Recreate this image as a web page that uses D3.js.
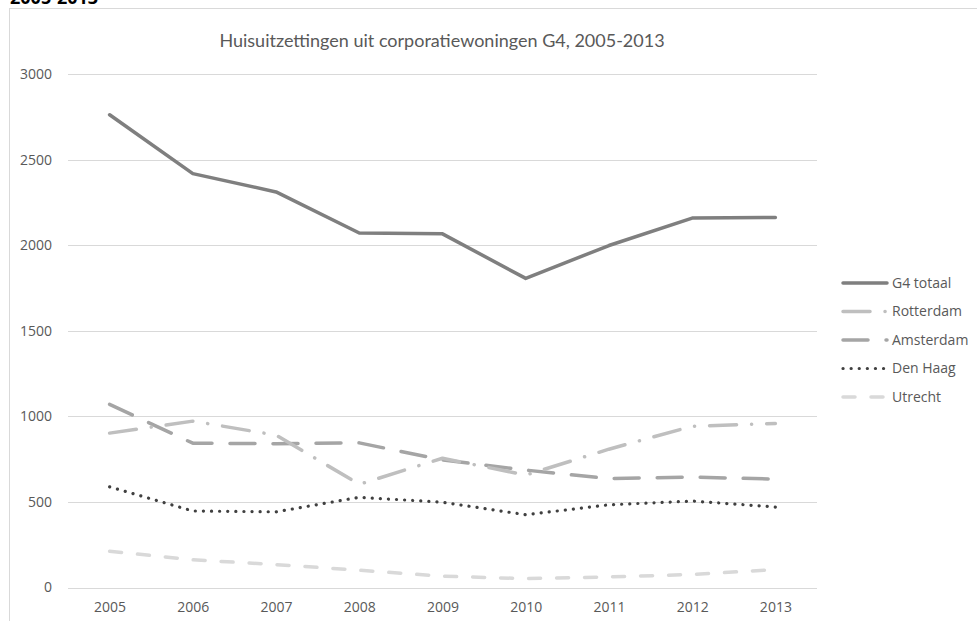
<!DOCTYPE html>
<html>
<head>
<meta charset="utf-8">
<script src="https://cdn.jsdelivr.net/npm/d3@7"></script>
<style>
  body { margin: 0; background: #fff; }
  svg { display: block; font-family: "Open Sans", sans-serif; }
</style>
</head>
<body>
<div id="chart"></div>
<script>
const years = [2005, 2006, 2007, 2008, 2009, 2010, 2011, 2012, 2013]
const g4Totaal = [2762, 2418, 2311, 2071, 2066, 1806, 1998, 2158, 2162]
const rotterdam = [902, 972, 890, 603, 755, 657, 808, 942, 958]
const amsterdam = [1070, 843, 840, 845, 745, 686, 636, 645, 633]
const denHaag = [588, 447, 442, 527, 498, 425, 483, 505, 470]
const utrecht = [212, 162, 134, 101, 66, 52, 62, 76, 105]
const yTicks = [0, 500, 1000, 1500, 2000, 2500, 3000]

const seriesNames = ["G4 totaal", "Rotterdam", "Amsterdam", "Den Haag", "Utrecht"]
const seriesValues = [g4Totaal, rotterdam, amsterdam, denHaag, utrecht]

// line styles per series (Excel-ish dash patterns)
const styles = [
  { color: "#7f7f7f", width: 3.5, dash: null },
  { color: "#bfbfbf", width: 3.5, dash: "27,15,0.1,15" },
  { color: "#a5a5a5", width: 3.5, dash: "25,18" },
  { color: "#404040", width: 3.2, dash: "0.1,8" },
  { color: "#d9d9d9", width: 3.5, dash: "12,16" }
]

const width = 977
const height = 621
const plot = { left: 68, right: 817, top: 74, bottom: 587.5 }

const svg = d3.select("#chart").append("svg")
    .attr("width", width)
    .attr("height", height)

// heading above the chart box, cut off by the top edge in the original
svg.append("text")
    .attr("x", 10)
    .attr("y", 4)
    .attr("font-size", 18)
    .attr("font-weight", "bold")
    .attr("fill", "#000")
    .text("2005-2013")

// chart area border
svg.append("rect")
    .attr("x", 9.5)
    .attr("y", 8.5)
    .attr("width", 1100)
    .attr("height", 800)
    .attr("fill", "#fff")
    .attr("stroke", "#d9d9d9")

const x = d3.scalePoint().domain(years).range([plot.left, plot.right]).padding(0.5)
const y = d3.scaleLinear().domain([0, 3000]).range([plot.bottom, plot.top])

// gridlines
svg.append("g").selectAll("line")
    .data(yTicks)
    .enter().append("line")
    .attr("x1", plot.left)
    .attr("x2", plot.right)
    .attr("y1", d => Math.round(y(d)) + 0.5)
    .attr("y2", d => Math.round(y(d)) + 0.5)
    .attr("stroke", "#d9d9d9")
    .attr("stroke-width", 1)

// y axis labels
const yAxis = svg.append("g")
    .attr("transform", `translate(${plot.left},0)`)
    .call(d3.axisLeft(y).tickValues(yTicks).tickFormat(d3.format("d")).tickSize(0).tickPadding(16))
yAxis.select(".domain").remove()
yAxis.selectAll("text")
    .attr("font-family", "'Open Sans', sans-serif")
    .attr("font-size", 14)
    .attr("fill", "#595959")

// x axis labels
const xAxis = svg.append("g")
    .attr("transform", `translate(0,${plot.bottom})`)
    .call(d3.axisBottom(x).tickSize(0).tickPadding(15))
xAxis.select(".domain").remove()
xAxis.selectAll("text")
    .attr("font-family", "'Open Sans', sans-serif")
    .attr("font-size", 14)
    .attr("fill", "#595959")

// title
svg.append("text")
    .attr("x", 442)
    .attr("y", 47)
    .attr("text-anchor", "middle")
    .attr("font-family", "Lato, sans-serif")
    .attr("font-size", 18)
    .attr("fill", "#595959")
    .text("Huisuitzettingen uit corporatiewoningen G4, 2005-2013")

const line = d3.line()
    .x((d, i) => x(years[i]))
    .y(d => y(d))

// draw back to front so G4 totaal ends up on top
const order = [4, 3, 2, 1, 0]
order.forEach(k => {
  const s = styles[k]
  svg.append("path")
      .datum(seriesValues[k])
      .attr("d", line)
      .attr("fill", "none")
      .attr("stroke", s.color)
      .attr("stroke-width", s.width)
      .attr("stroke-linecap", "round")
      .attr("stroke-linejoin", "round")
      .attr("stroke-dasharray", s.dash)
})

// legend
const legend = svg.append("g")
const legendY = d3.scalePoint().domain(seriesNames).range([283, 397])
seriesNames.forEach((name, k) => {
  const s = styles[k]
  const ly = legendY(name)
  legend.append("line")
      .attr("x1", 843)
      .attr("x2", 887)
      .attr("y1", ly)
      .attr("y2", ly)
      .attr("stroke", s.color)
      .attr("stroke-width", s.width)
      .attr("stroke-linecap", "round")
      .attr("stroke-dasharray", s.dash)
  legend.append("text")
      .attr("x", 892)
      .attr("y", ly)
      .attr("dy", "0.35em")
      .attr("font-size", 14)
      .attr("fill", "#595959")
      .text(name)
})
</script>
</body>
</html>
